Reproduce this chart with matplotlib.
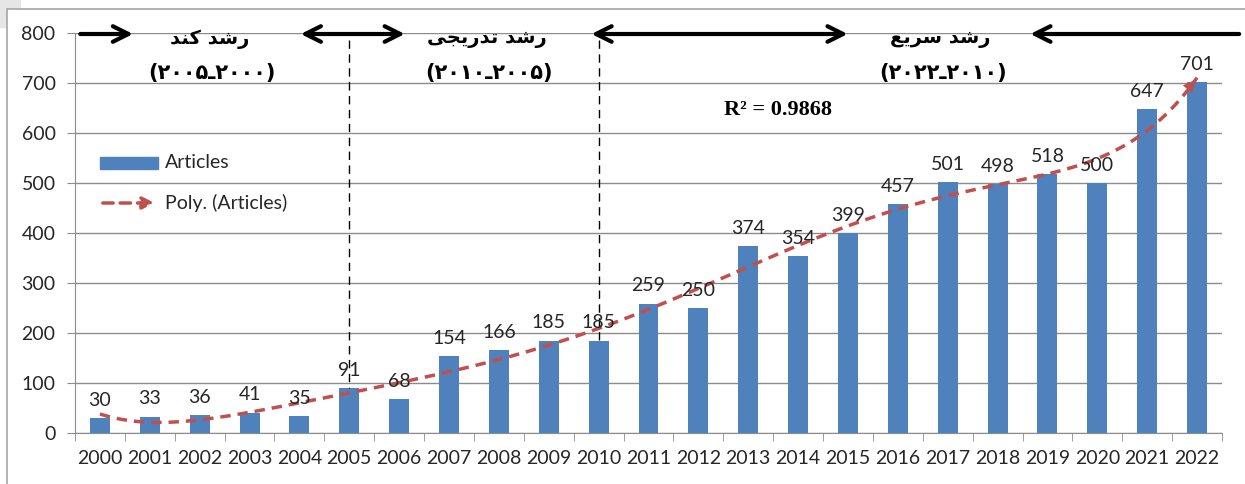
import numpy as np
import matplotlib
matplotlib.use("Agg")
import matplotlib.pyplot as plt
from matplotlib.patches import Rectangle

years = [str(y) for y in range(2000, 2023)]
articles = [30, 33, 36, 41, 35, 91, 68, 154, 166, 185, 185, 259, 250,
            374, 354, 399, 457, 501, 498, 518, 500, 647, 701]

# Persian labels, written in visual order with presentation forms
# (matplotlib has no Arabic shaping / bidi)
phase_titles = [
    "\uFEAA\uFEE8\uFB90 \uFEAA\uFEB7\uFEAD",                          # رشد کند
    "\uFBFD\uFEA0\uFBFE\uFEAD\uFEAA\uFE97 \uFEAA\uFEB7\uFEAD",        # رشد تدریجی
    "\uFECA\uFBFE\uFEAE\uFEB3 \uFEAA\uFEB7\uFEAD",                    # رشد سریع
]
phase_years = ["(۲۰۰۵ـ۲۰۰۰)", "(۲۰۱۰ـ۲۰۰۵)", "(۲۰۲۲ـ۲۰۱۰)"]

BLUE = "#4F81BD"
RED = "#C0504D"
GRID = "#8C8C8C"
TXT = "#262626"

plt.rcParams["font.family"] = ["Lato", "DejaVu Sans"]

fig = plt.figure(figsize=(12.45, 4.84), dpi=100)
fig.patch.set_facecolor("white")
# spreadsheet frame around the chart
fig.patches.append(Rectangle((0, 1 - 27 / 484), 20 / 1245, 27 / 484,
                             transform=fig.transFigure, color="#E6E6E6", zorder=-2))
fig.patches.append(Rectangle((7 / 1245, -0.01), 1.0, 1 - 9 / 484 + 0.01,
                             transform=fig.transFigure, facecolor="white",
                             edgecolor="#A6A6A6", lw=1.2, zorder=-1))

ax = fig.add_axes([75 / 1245, 1 - 433 / 484, 1147 / 1245, 400 / 484])
ax.set_facecolor("none")

x = np.arange(len(years))
ax.bar(x, articles, width=0.4, color=BLUE, zorder=3)
for xi, v in zip(x, articles):
    ax.text(xi, v + 18, str(v), ha="center", va="bottom", fontsize=14,
            color=TXT, zorder=6)

# 6th order polynomial trendline (R^2 = 0.9868)
xs = np.arange(1, len(years) + 1)
coef = np.polyfit(xs, articles, 6)
xf = np.linspace(1, len(years), 300)
yf = np.polyval(coef, xf)
ax.plot(xf - 1, yf, color=RED, lw=2.5, ls=(0, (3, 2)), zorder=4)
ax.annotate("", xy=(xf[-1] - 1, yf[-1]), xytext=(xf[-8] - 1, yf[-8]),
            arrowprops=dict(arrowstyle="-|>", color=RED, lw=0, mutation_scale=22),
            zorder=4)

ax.set_xlim(-0.5, len(years) - 0.5)
ax.set_ylim(0, 800)
ax.set_yticks(range(0, 801, 100))
ax.set_xticks(x)
ax.set_xticklabels(years)
ax.set_xticks(np.arange(-0.5, len(years), 1), minor=True)
ax.tick_params(axis="x", which="major", length=0, labelsize=14, labelcolor=TXT, pad=12)
ax.tick_params(axis="x", which="minor", length=6, color=GRID, direction="out")
ax.tick_params(axis="y", length=6, color=GRID, labelsize=14, labelcolor=TXT, pad=8)
ax.grid(axis="y", color=GRID, lw=1, zorder=0)
for s in ["top", "right"]:
    ax.spines[s].set_visible(False)
for s in ["left", "bottom"]:
    ax.spines[s].set_color(GRID)

# phase arrows along the top
arrow_kw = dict(arrowstyle="->", color="black", lw=3, mutation_scale=28)
both_kw = dict(arrowstyle="<->", color="black", lw=3, mutation_scale=28)
ytop = 798
ax.annotate("", xy=(0.72, ytop), xytext=(-0.45, ytop), arrowprops=arrow_kw,
            annotation_clip=False, zorder=7)
ax.annotate("", xy=(6.17, ytop), xytext=(3.97, ytop), arrowprops=both_kw,
            annotation_clip=False, zorder=7)
ax.annotate("", xy=(15.05, ytop), xytext=(9.8, ytop), arrowprops=both_kw,
            annotation_clip=False, zorder=7)
ax.annotate("", xy=(18.6, ytop), xytext=(22.9, ytop), arrowprops=arrow_kw,
            annotation_clip=False, zorder=7)

title_x = [2.2, 7.76, 16.85]
for tx, t, yr in zip(title_x, phase_titles, phase_years):
    ax.text(tx, 788, t, ha="center", va="center", fontsize=14, fontweight="bold",
            family="DejaVu Sans", color="black", zorder=8)
    ax.text(tx + 0.05, 720, yr, ha="center", va="center", fontsize=15,
            fontweight="bold", family="DejaVu Sans", color="black", zorder=8)

# phase borders
for px in (5, 10):
    ax.plot([px, px], [786, articles[px]], color="black", lw=1, ls=(0, (6, 4)), zorder=5)

ax.text(13.6, 646, "R\u00b2 = 0.9868", ha="center", va="center", fontsize=16,
        fontweight="bold", family="Liberation Serif", color="black", zorder=8)

# legend drawn by hand (no frame in the reference)
ax.add_patch(Rectangle((0.0218, 0.66), 0.0506, 0.03, transform=ax.transAxes,
                       color=BLUE, zorder=6))
ax.text(0.0785, 0.675, "Articles", transform=ax.transAxes, va="center",
        fontsize=14, color=TXT, zorder=6)
ax.annotate("", xy=(0.072, 0.575), xytext=(0.0218, 0.575), xycoords="axes fraction",
            arrowprops=dict(arrowstyle="-|>", color=RED, lw=2.5, ls=(0, (3, 2)),
                            mutation_scale=18), zorder=6)
ax.text(0.0785, 0.575, "Poly. (Articles)", transform=ax.transAxes, va="center",
        fontsize=14, color=TXT, zorder=6)

fig.savefig("out.png", dpi=100)
